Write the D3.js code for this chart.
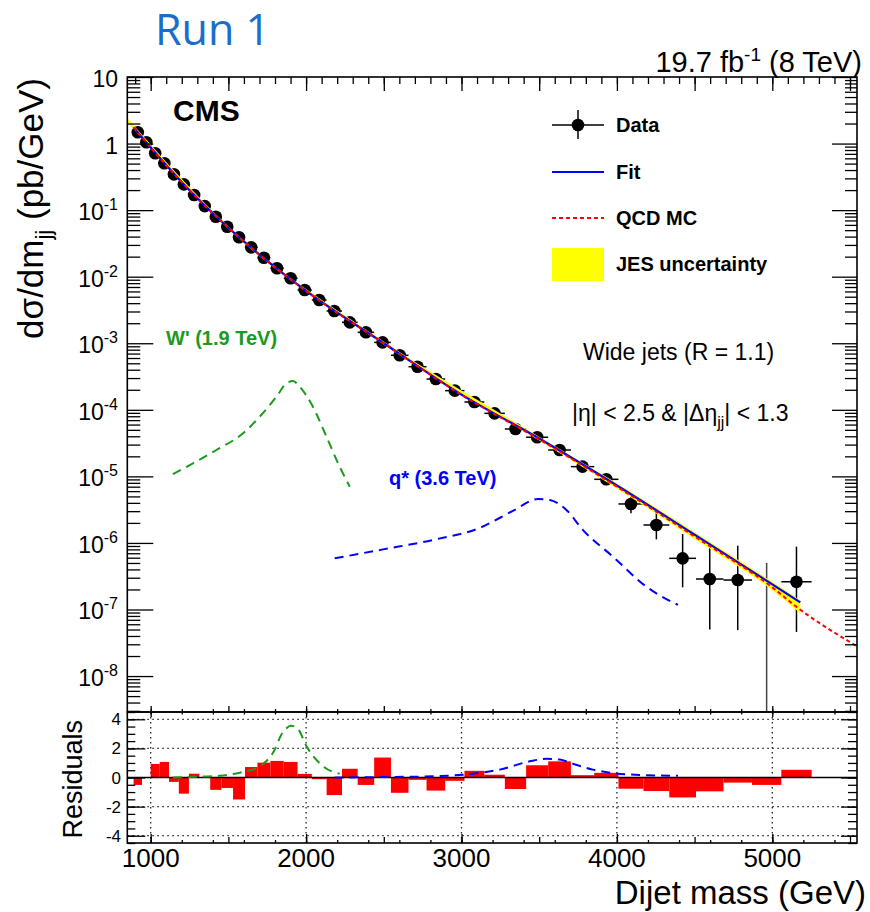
<!DOCTYPE html>
<meta charset="utf-8">
<style>
    body { margin: 0; background: #fff; }
    text { font-family: "Liberation Sans", Arial, sans-serif; fill: #000; }
</style>
<body>
<script src="https://cdn.jsdelivr.net/npm/d3@7"></script>
<script>
// dijet mass bins (GeV)
var binEdges = [890, 944, 1000, 1058, 1118, 1181, 1246, 1313, 1383, 1455, 1530, 1607, 1687,
    1770, 1856, 1945, 2037, 2132, 2231, 2332, 2438, 2546, 2659, 2775, 2895, 3019, 3147, 3279,
    3416, 3558, 3704, 3854, 4010, 4171, 4337, 4509, 4686, 4869, 5058, 5253];

// d sigma / d m (pb/GeV), one per bin; 0 = empty bin
var dataVals = [1.48, 1.045, 0.714, 0.505, 0.345, 0.244, 0.169, 0.115, 0.0797, 0.0563, 0.0391,
    0.0276, 0.0193, 0.01336, 0.00946, 0.00631, 0.00447, 0.00305, 0.00206, 0.00146, 0.00103,
    6.59e-4, 4.44e-4, 2.90e-4, 1.94e-4, 1.31e-4, 8.85e-5, 5.15e-5, 3.87e-5, 2.49e-5, 1.40e-5,
    9.03e-6, 3.85e-6, 1.86e-6, 5.87e-7, 2.87e-7, 2.77e-7, 0, 2.61e-7];

// ends of the vertical error bars (null = hidden under the marker)
var dataHi = [null, null, null, null, null, null, null, null, null, null, null, null, null,
    null, null, null, null, null, null, null, null, null, null, null, null, null, null, null,
    null, 2.8e-5, 1.63e-5, 1.08e-5, 5.56e-6, 2.94e-6, 1.36e-6, 9.1e-7, 9.1e-7, 5.0e-7, 8.8e-7];
var dataLo = [null, null, null, null, null, null, null, null, null, null, null, null, null,
    null, null, null, null, null, null, null, null, null, null, null, null, null, null, null,
    null, 2.2e-5, 1.18e-5, 7.4e-6, 2.79e-6, 1.13e-6, 2.15e-7, 5.0e-8, 4.9e-8, 0, 4.6e-8];

// (data - fit) / error per bin
var residuals = [-0.51, -0.03, 0.93, 1.07, -0.30, -1.11, 0.26, 0.02, -0.85, -0.72, -1.51, 0.72,
    1.02, 1.14, 1.07, 0.25, -0.12, -1.21, 0.60, -0.51, 1.37, -1.05, -0.16, -0.90, -0.23, 0.46,
    0.19, -0.79, 0.84, 1.11, 0.16, 0.32, -0.77, -0.93, -1.37, -0.95, -0.35, -0.51, 0.53];

// fit function, sampled
var fitMass = [890, 1000, 1200, 1500, 2000, 2500, 3000, 3500, 4000, 4500, 5000, 5180];
var fitVals = [1.75, 0.87, 0.263, 0.0543, 0.0061, 1.0e-3, 1.69e-4, 3.7e-5, 7.3e-6, 1.33e-6,
    2.39e-7, 1.28e-7];

// QCD MC
var qcdMass = [890, 1000, 1200, 1500, 2000, 2500, 3000, 3500, 4000, 4500, 5000, 5155, 5545];
var qcdVals = [1.75, 0.87, 0.263, 0.0543, 0.0061, 1.0e-3, 1.68e-4, 3.6e-5, 7.0e-6, 1.25e-6,
    2.15e-7, 1.10e-7, 2.8e-8];

// JES uncertainty band
var jesMass = [850, 1500, 2500, 3500, 4000, 4500, 5000, 5180];
var jesHi = [2.4, 0.057, 1.06e-3, 3.95e-5, 7.9e-6, 1.45e-6, 2.6e-7, 1.38e-7];
var jesLo = [2.1, 0.052, 0.95e-3, 3.45e-5, 6.6e-6, 1.15e-6, 1.95e-7, 8.8e-8];

// signal shapes
var wMass = [1143, 1272, 1423, 1594, 1701, 1809, 1873, 1916, 1959, 2044, 2131, 2216, 2281];
var wVals = [1.08e-5, 1.57e-5, 2.49e-5, 4.43e-5, 7.87e-5, 1.57e-4, 2.50e-4, 2.71e-4, 2.22e-4,
    1.11e-4, 3.94e-5, 1.40e-5, 7.0e-6];
var qMass = [2184, 2495, 2817, 3117, 3331, 3492, 3568, 3675, 3782, 3975, 4190, 4393];
var qVals = [5.87e-7, 8.0e-7, 1.11e-6, 1.68e-6, 3.03e-6, 4.57e-6, 4.41e-6, 3.13e-6, 1.56e-6,
    6.21e-7, 2.2e-7, 1.17e-7];

// signals in the residual panel
var wResMass = [1143, 1300, 1444, 1573, 1701, 1787, 1850, 1905, 1950, 2002, 2109, 2216];
var wResVals = [0, 0.05, 0.12, 0.33, 0.77, 1.7, 3.1, 3.55, 3.3, 2.16, 0.77, 0.26];
var qResMass = [2184, 2493, 2815, 3072, 3246, 3439, 3546, 3632, 3716, 3844, 3973, 4147, 4393];
var qResVals = [0, 0.03, 0.08, 0.26, 0.54, 1.11, 1.28, 1.23, 0.95, 0.54, 0.31, 0.17, 0.12];

var resTicks = [-4, -2, 0, 2, 4];

var W = 870, H = 912;
var pLeft = 127.3, pRight = 857, pTop = 77, pMid = 712, pBottom = 843;

var svg = d3.select("body").append("svg")
    .attr("width", W).attr("height", H);

var x = d3.scaleLinear().domain([849.5, 5545]).range([pLeft, pRight]);
var y = d3.scaleLog().domain([Math.pow(10, -8.54), 10]).range([pMid, pTop]);
var yr = d3.scaleLinear().domain([-4.5, 4.5]).range([pBottom, pMid]);

svg.append("clipPath").attr("id", "clipMain")
    .append("rect").attr("x", pLeft).attr("y", pTop).attr("width", pRight - pLeft).attr("height", pMid - pTop);
svg.append("clipPath").attr("id", "clipRes")
    .append("rect").attr("x", pLeft).attr("y", pMid).attr("width", pRight - pLeft).attr("height", pBottom - pMid);

// ---------- main panel ----------
var main = svg.append("g").attr("clip-path", "url(#clipMain)");

var bins = dataVals.map(function(v, i) {
    return { lo: binEdges[i], hi: binEdges[i + 1], c: (binEdges[i] + binEdges[i + 1]) / 2,
             v: v, eh: dataHi[i], el: dataLo[i] };
});

// data error bars
bins.forEach(function(b) {
    if (b.v > 0) {
        main.append("line")
            .attr("x1", x(b.lo)).attr("x2", x(b.hi))
            .attr("y1", y(b.v)).attr("y2", y(b.v))
            .attr("stroke", "#000").attr("stroke-width", 1.5);
    }
    if (b.eh != null) {
        main.append("line")
            .attr("x1", x(b.c)).attr("x2", x(b.c))
            .attr("y1", y(b.eh)).attr("y2", b.el > 0 ? y(b.el) : pMid)
            .attr("stroke", b.v > 0 ? "#000" : "#444").attr("stroke-width", 1.5);
    }
});
main.selectAll("circle.pt")
    .data(bins.filter(function(b) { return b.v > 0; }))
    .enter().append("circle")
    .attr("class", "pt")
    .attr("cx", function(b) { return x(b.c); })
    .attr("cy", function(b) { return y(b.v); })
    .attr("r", 6.3)
    .attr("fill", "#000");

var zipped = function(a, b) { return a.map(function(m, i) { return [m, b[i]]; }); };

var band = d3.area()
    .x(function(d) { return x(d[0]); })
    .y0(function(d) { return y(d[1]); })
    .y1(function(d) { return y(d[2]); })
    .curve(d3.curveMonotoneX);
main.append("path")
    .attr("d", band(jesMass.map(function(m, i) { return [m, jesLo[i], jesHi[i]]; })))
    .attr("fill", "#ffff00");

var lineLog = d3.line()
    .x(function(d) { return x(d[0]); })
    .y(function(d) { return y(d[1]); })
    .curve(d3.curveMonotoneX);

main.append("path").attr("d", lineLog(zipped(fitMass, fitVals)))
    .attr("fill", "none").attr("stroke", "#0000ff").attr("stroke-width", 2.2);
main.append("path").attr("d", lineLog(zipped(qcdMass, qcdVals)))
    .attr("fill", "none").attr("stroke", "#ff0000").attr("stroke-width", 2)
    .attr("stroke-dasharray", "4,3");
main.append("path").attr("d", lineLog(zipped(wMass, wVals)))
    .attr("fill", "none").attr("stroke", "#1c9a1c").attr("stroke-width", 2)
    .attr("stroke-dasharray", "9,6");
main.append("path").attr("d", lineLog(zipped(qMass, qVals)))
    .attr("fill", "none").attr("stroke", "#0000ff").attr("stroke-width", 2)
    .attr("stroke-dasharray", "9,6");

// ---------- residual panel ----------
var res = svg.append("g").attr("clip-path", "url(#clipRes)");

resTicks.filter(function(t) { return t != 0; }).forEach(function(t) {
    res.append("line").attr("x1", pLeft).attr("x2", pRight)
        .attr("y1", yr(t)).attr("y2", yr(t))
        .attr("stroke", "#222").attr("stroke-width", 1.3).attr("stroke-dasharray", "1.5,3.5");
});
[1000, 2000, 3000, 4000, 5000].forEach(function(m) {
    res.append("line").attr("x1", x(m)).attr("x2", x(m))
        .attr("y1", pMid).attr("y2", pBottom)
        .attr("stroke", "#222").attr("stroke-width", 1.3).attr("stroke-dasharray", "1.5,3.5");
});

res.selectAll("rect.res")
    .data(residuals.map(function(r, i) { return { lo: binEdges[i], hi: binEdges[i + 1], r: r }; }))
    .enter().append("rect")
    .attr("class", "res")
    .attr("x", function(d) { return x(d.lo); })
    .attr("width", function(d) { return x(d.hi) - x(d.lo); })
    .attr("y", function(d) { return yr(Math.max(0, d.r)); })
    .attr("height", function(d) { return Math.abs(yr(d.r) - yr(0)); })
    .attr("fill", "#ff0000");

res.append("line").attr("x1", pLeft).attr("x2", pRight)
    .attr("y1", yr(0)).attr("y2", yr(0))
    .attr("stroke", "#000").attr("stroke-width", 1.5);

var lineRes = d3.line()
    .x(function(d) { return x(d[0]); })
    .y(function(d) { return yr(d[1]); })
    .curve(d3.curveMonotoneX);
res.append("path").attr("d", lineRes(zipped(wResMass, wResVals)))
    .attr("fill", "none").attr("stroke", "#1c9a1c").attr("stroke-width", 2)
    .attr("stroke-dasharray", "9,6");
res.append("path").attr("d", lineRes(zipped(qResMass, qResVals)))
    .attr("fill", "none").attr("stroke", "#0000ff").attr("stroke-width", 2)
    .attr("stroke-dasharray", "9,6");

// ---------- frames and ticks ----------
svg.append("rect").attr("x", pLeft).attr("y", pTop).attr("width", pRight - pLeft).attr("height", pMid - pTop)
    .attr("fill", "none").attr("stroke", "#000").attr("stroke-width", 1.6);
svg.append("rect").attr("x", pLeft).attr("y", pMid).attr("width", pRight - pLeft).attr("height", pBottom - pMid)
    .attr("fill", "none").attr("stroke", "#000").attr("stroke-width", 1.6);

function ticks(axisFn, scale, vals, len, tx, ty) {
    svg.append("g")
        .attr("transform", "translate(" + tx + "," + ty + ")")
        .call(axisFn(scale).tickValues(vals).tickSize(-len).tickFormat(""))
        .call(function(g) { g.select(".domain").remove(); })
        .selectAll("line").attr("stroke-width", 1.3);
}

var inX = function(v) { return v >= 849.5 && v <= 5545; };
var by = function(step) { return d3.range(900, 5600, 100).filter(function(v) { return v % step == 0 && inX(v); }); };

// main x ticks
ticks(d3.axisTop, x, by(500), 14, 0, pTop);
ticks(d3.axisTop, x, by(100), 7, 0, pTop);
ticks(d3.axisBottom, x, by(500), 6, 0, pMid);
ticks(d3.axisBottom, x, by(200), 3, 0, pMid);
// residual x ticks
ticks(d3.axisTop, x, by(1000), 5, 0, pMid);
ticks(d3.axisTop, x, by(200), 2.5, 0, pMid);
ticks(d3.axisBottom, x, by(1000), 9, 0, pBottom);
ticks(d3.axisBottom, x, by(500), 6, 0, pBottom);
ticks(d3.axisBottom, x, by(200), 3, 0, pBottom);

// main y ticks (log)
var decades = d3.range(-8, 2);
var minors = [];
d3.range(-9, 1).forEach(function(k) {
    for (var m = 2; m <= 9; m++) {
        var v = m * Math.pow(10, k);
        if (v > Math.pow(10, -8.54) && v < 10) minors.push(v);
    }
});
var decVals = decades.map(function(k) { return Math.pow(10, k); });
ticks(d3.axisLeft, y, decVals, 26, pLeft, 0);
ticks(d3.axisLeft, y, minors, 13, pLeft, 0);
ticks(d3.axisRight, y, decVals, 25, pRight, 0);
ticks(d3.axisRight, y, minors, 12, pRight, 0);

// residual y ticks
var resMinor = d3.range(-4.5, 4.51, 0.5);
ticks(d3.axisLeft, yr, resTicks, 18, pLeft, 0);
ticks(d3.axisLeft, yr, resMinor, 8, pLeft, 0);
ticks(d3.axisRight, yr, resTicks, 16, pRight, 0);
ticks(d3.axisRight, yr, resMinor, 9, pRight, 0);

// ---------- labels ----------
decades.forEach(function(k) {
    var t = svg.append("text")
        .attr("x", 118).attr("y", y(Math.pow(10, k)) + 10)
        .attr("text-anchor", "end").attr("font-size", 23);
    if (k == 1) t.text("10");
    else if (k == 0) t.text("1");
    else {
        t.append("tspan").text("10");
        t.append("tspan").attr("dy", -10).attr("font-size", 16).text(k);
    }
});

resTicks.forEach(function(t) {
    svg.append("text")
        .attr("x", 121).attr("y", yr(t) + 6)
        .attr("text-anchor", "end").attr("font-size", 17)
        .text(t);
});

[1000, 2000, 3000, 4000, 5000].forEach(function(m) {
    svg.append("text")
        .attr("x", x(m)).attr("y", 867)
        .attr("text-anchor", "middle").attr("font-size", 26)
        .text(m);
});

svg.append("text")
    .attr("x", 866).attr("y", 904)
    .attr("text-anchor", "end").attr("font-size", 33)
    .text("Dijet mass (GeV)");

var yt = svg.append("text")
    .attr("transform", "translate(43,78) rotate(-90)")
    .attr("text-anchor", "end").attr("font-size", 35);
yt.append("tspan").text("d\u03c3/dm");
yt.append("tspan").attr("dy", 8).attr("font-size", 22).text("jj");
yt.append("tspan").attr("dy", -8).text(" (pb/GeV)");

svg.append("text")
    .attr("transform", "translate(82,720) rotate(-90)")
    .attr("text-anchor", "end").attr("font-size", 27)
    .text("Residuals");

svg.append("text")
    .attr("x", 155).attr("y", 45)
    .style("font-family", "'Open Sans', sans-serif")
    .style("fill", "#1a6ecb")
    .attr("font-size", 43)
    .text("Run 1");

var lumi = svg.append("text")
    .attr("x", 862).attr("y", 72)
    .attr("text-anchor", "end").attr("font-size", 29);
lumi.append("tspan").text("19.7 fb");
lumi.append("tspan").attr("dy", -11).attr("font-size", 19).text("-1");
lumi.append("tspan").attr("dy", 11).text(" (8 TeV)");

svg.append("text")
    .attr("x", 173).attr("y", 121)
    .attr("font-size", 30).attr("font-weight", "bold")
    .text("CMS");

svg.append("text")
    .attr("x", 583).attr("y", 360)
    .attr("font-size", 23)
    .text("Wide jets (R = 1.1)");

var eta = svg.append("text")
    .attr("x", 572).attr("y", 421)
    .attr("font-size", 23);
eta.append("tspan").text("|\u03b7| < 2.5 & |\u0394\u03b7");
eta.append("tspan").attr("dy", 7).attr("font-size", 16).text("jj");
eta.append("tspan").attr("dy", -7).text("| < 1.3");

svg.append("text")
    .attr("x", 166).attr("y", 345)
    .attr("font-size", 20).attr("font-weight", "bold")
    .style("fill", "#1c9a1c")
    .text("W' (1.9 TeV)");

svg.append("text")
    .attr("x", 389).attr("y", 485)
    .attr("font-size", 20).attr("font-weight", "bold")
    .style("fill", "#0000ff")
    .text("q* (3.6 TeV)");

// ---------- legend ----------
var lg = svg.append("g");
var lx0 = 552, lx1 = 604, ltx = 616;
lg.append("line").attr("x1", lx0).attr("x2", lx1).attr("y1", 125).attr("y2", 125)
    .attr("stroke", "#000").attr("stroke-width", 1.5);
lg.append("line").attr("x1", 578).attr("x2", 578).attr("y1", 110).attr("y2", 139)
    .attr("stroke", "#000").attr("stroke-width", 1.5);
lg.append("circle").attr("cx", 578).attr("cy", 125).attr("r", 6.3).attr("fill", "#000");
lg.append("line").attr("x1", lx0).attr("x2", lx1).attr("y1", 172).attr("y2", 172)
    .attr("stroke", "#0000ff").attr("stroke-width", 2.2);
lg.append("line").attr("x1", lx0).attr("x2", lx1).attr("y1", 218).attr("y2", 218)
    .attr("stroke", "#ff0000").attr("stroke-width", 2).attr("stroke-dasharray", "4,3");
lg.append("rect").attr("x", lx0).attr("y", 248).attr("width", lx1 - lx0).attr("height", 33)
    .attr("fill", "#ffff00");

var legendLabels = ["Data", "Fit", "QCD MC", "JES uncertainty"];
var legendY = [132, 179, 225, 271];
legendLabels.forEach(function(l, i) {
    lg.append("text").attr("x", ltx).attr("y", legendY[i])
        .attr("font-size", 20).attr("font-weight", "bold").text(l);
});
</script>
</body>
